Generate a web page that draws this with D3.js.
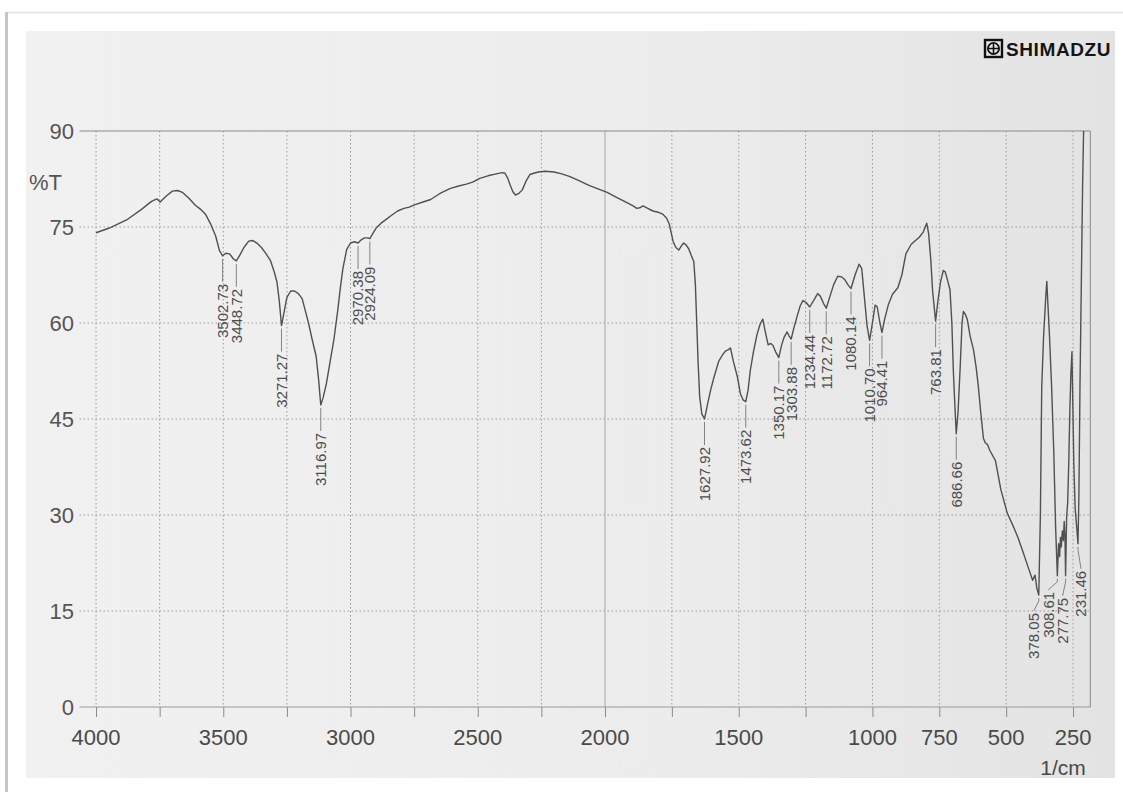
<!DOCTYPE html>
<html>
<head>
<meta charset="utf-8">
<script src="https://cdn.jsdelivr.net/npm/d3@7"></script>
<style>
  html, body { margin: 0; padding: 0; background: #ffffff; }
  svg { display: block; }
  text { font-family: "Liberation Sans", Arial, sans-serif; }
</style>
</head>
<body>
<svg id="chart" width="1123" height="792"></svg>
<script>
// IR spectrum: wavenumber (1/cm) and transmittance (%T)
const wavenumber = [
  4000, 3950, 3880, 3820, 3782, 3761, 3748, 3725, 3700, 3680, 3660, 3635, 3610, 3590, 3570, 3550, 3530, 3515,
  3502.73, 3490, 3475, 3460, 3448.72, 3435, 3419, 3400, 3385, 3365, 3350, 3335, 3315, 3300, 3289, 3280,
  3271.27, 3262, 3250, 3235, 3220, 3205, 3190, 3175, 3165, 3150, 3135, 3125, 3116.97, 3108, 3095, 3080,
  3065, 3050, 3040, 3030, 3015, 3000, 2985, 2970.38, 2958, 2945, 2935, 2924.09, 2912, 2900, 2880, 2860,
  2840, 2815, 2790, 2770, 2746, 2715, 2685, 2650, 2610, 2575, 2545, 2520, 2492, 2460, 2427, 2405, 2393,
  2382, 2372, 2362, 2352, 2340, 2325, 2310, 2295, 2280, 2262, 2235, 2200, 2170, 2140, 2100, 2063, 2030,
  1992, 1955, 1918, 1895, 1881, 1870, 1858, 1840, 1821, 1800, 1784, 1770, 1760, 1752, 1745, 1735, 1724,
  1715, 1706, 1697, 1687, 1677, 1668, 1662, 1657, 1652, 1646, 1638, 1627.92, 1617, 1605, 1594, 1575, 1561,
  1550, 1540, 1531, 1520, 1505, 1494, 1484, 1473.62, 1465, 1457, 1445, 1431, 1420, 1410, 1400, 1390, 1380,
  1372, 1362, 1350.17, 1340, 1330, 1319, 1312, 1303.88, 1292, 1282, 1270, 1260, 1248, 1234.44, 1220, 1205,
  1195, 1182, 1172.72, 1160, 1145, 1130, 1115, 1104, 1092, 1080.14, 1065, 1050, 1040, 1030, 1020, 1010.70,
  1000, 990, 982, 972, 964.41, 955, 941, 925, 905, 890, 875, 855, 825, 810, 797, 790, 782, 775, 763.81,
  755, 745, 735, 728, 718, 710, 703, 697, 690, 686.66, 680, 672, 665, 660, 652, 645, 635, 622, 612, 605,
  595, 585, 578, 570, 560, 540, 520, 496, 472, 456, 435, 415, 401, 392, 385, 378.05, 372, 367, 360, 352,
  348, 344, 338, 330, 322, 315, 308.61, 304, 300, 297, 294, 290, 286, 283, 280, 277.75, 274, 270, 266,
  262, 258, 254, 251, 247, 242, 237, 231.46, 228, 224, 219, 214, 210
];
const transmittance = [
  74.1, 74.8, 76.1, 77.8, 79.0, 79.4, 78.9, 79.8, 80.6, 80.7, 80.4, 79.5, 78.4, 77.8, 77.0, 75.5, 73.6, 71.3,
  70.5, 70.9, 70.8, 70.0, 69.7, 70.6, 71.8, 72.8, 72.9, 72.4, 71.8, 71.0, 69.8, 68.0, 66.4, 63.5,
  59.6, 61.5, 64.0, 65.0, 65.0, 64.6, 63.8, 61.5, 60.0, 57.3, 54.8, 51.0, 47.2, 48.3, 50.5, 54.0,
  57.5, 62.0, 65.5, 68.5, 71.5, 72.5, 72.7, 72.5, 73.0, 73.3, 73.3, 73.2, 74.0, 74.8, 75.6, 76.2,
  76.8, 77.5, 77.9, 78.1, 78.5, 78.9, 79.3, 80.2, 81.0, 81.4, 81.7, 82.0, 82.6, 83.0, 83.3, 83.5, 83.4,
  82.6, 81.5, 80.5, 80.0, 80.2, 80.8, 82.2, 83.2, 83.4, 83.6, 83.7, 83.6, 83.3, 82.9, 82.2, 81.5, 81.0,
  80.4, 79.6, 78.8, 78.3, 77.9, 78.0, 78.3, 77.9, 77.5, 77.3, 77.0, 76.4, 75.5, 74.0, 72.7, 71.8, 71.4,
  72.0, 72.5, 72.2, 71.6, 70.5, 69.6, 66.0, 60.0, 54.0, 48.5, 45.8, 45.0, 47.2, 49.5, 51.3, 54.0, 55.0,
  55.6, 55.8, 56.1, 54.0, 51.6, 49.0, 48.0, 47.7, 49.5, 52.5, 55.5, 58.3, 59.8, 60.6, 58.5, 56.6, 56.8,
  56.5, 55.5, 54.6, 56.5, 57.8, 58.6, 58.0, 57.5, 59.5, 61.0, 62.7, 63.5, 63.2, 62.5, 63.5, 64.6,
  64.2, 63.0, 62.3, 64.0, 66.0, 67.3, 67.2, 66.8, 66.0, 65.4, 67.5, 69.2, 68.5, 64.0, 59.5, 57.3,
  60.0, 62.8, 62.5, 60.0, 58.5, 60.5, 62.8, 64.5, 65.5, 67.5, 70.8, 72.3, 73.4, 74.2, 75.6, 74.0, 70.0, 65.0, 60.3,
  63.5, 66.5, 68.2, 68.0, 66.5, 65.2, 60.0, 52.0, 45.5, 42.7, 46.0, 53.0, 60.0, 61.8, 61.3, 60.5, 58.0, 55.8, 53.0, 50.5,
  46.0, 42.0, 41.3, 41.0, 40.0, 38.5, 34.0, 30.3, 28.1, 26.5, 24.0, 21.5, 19.8, 20.6, 18.5, 17.5, 30.0, 50.0, 58.0, 64.0,
  66.5, 63.0, 58.0, 50.0, 40.0, 28.0, 20.5, 25.5, 23.5, 26.5, 25.0, 27.5, 26.0, 29.0, 26.5, 20.5, 29.5, 32.0, 38.0,
  46.0, 52.0, 55.5, 48.0, 38.0, 31.0, 28.5, 25.5, 33.0, 50.0, 66.0, 82.0, 91.0
];

// Annotated band positions (1/cm)
const peakLabels = [
  3502.73, 3448.72, 3271.27, 3116.97, 2970.38, 2924.09, 1627.92, 1473.62, 1350.17, 1303.88,
  1234.44, 1172.72, 1080.14, 1010.70, 964.41, 763.81, 686.66, 378.05, 308.61, 277.75, 231.46
];

// Axis ticks
const xGridTicks = d3.range(4000, 249, -250);
const xTickLabels = [4000, 3500, 3000, 2500, 2000, 1500, 1000, 750, 500, 250];
const yTickLabels = [0, 15, 30, 45, 60, 75, 90];

const svg = d3.select("#chart");
const W = 1123, H = 792;

// page / paper
const paper = { x: 26, y: 31, w: 1089, h: 747 };
const defs = svg.append("defs");
const grad = defs.append("linearGradient").attr("id", "paperShade").attr("x1", "0").attr("x2", "1").attr("y1", "0").attr("y2", "0");
grad.append("stop").attr("offset", "0").attr("stop-color", "#f1f1f1");
grad.append("stop").attr("offset", "0.6").attr("stop-color", "#ececec");
grad.append("stop").attr("offset", "1").attr("stop-color", "#e3e3e3");
defs.append("clipPath").attr("id", "paperClip").append("rect")
  .attr("x", paper.x).attr("y", paper.y).attr("width", paper.w).attr("height", paper.h);

svg.append("rect").attr("width", W).attr("height", H).attr("fill", "#ffffff");
svg.append("line").attr("x1", 8).attr("x2", W).attr("y1", 12.5).attr("y2", 12.5)
  .attr("stroke", "#e2e2e2").attr("stroke-width", 1.5);
svg.append("rect").attr("x", 5).attr("y", 12).attr("width", 3).attr("height", H - 12).attr("fill", "#c6c6c6");
svg.append("rect").attr("x", paper.x).attr("y", paper.y).attr("width", paper.w).attr("height", paper.h)
  .attr("fill", "url(#paperShade)");

const page = svg.append("g").attr("clip-path", "url(#paperClip)");

// scales
const x = d3.scaleLinear().domain([4065, 2000, 185]).range([79.5, 605, 1090.4]);
const y = d3.scaleLinear().domain([0, 90]).range([707, 131]);
const xL = x(4065), xR = x(185), yT = y(90), yB = y(0);

defs.append("clipPath").attr("id", "plotClip").append("rect")
  .attr("x", xL).attr("y", yT).attr("width", xR - xL).attr("height", yB - yT);

// grid
const grid = page.append("g");
grid.selectAll("line.h").data([15, 30, 45, 60, 75]).join("line")
  .attr("x1", xL).attr("x2", xR).attr("y1", d => y(d)).attr("y2", d => y(d))
  .attr("stroke", "#9a9a9a").attr("stroke-width", 1).attr("stroke-dasharray", "1.5,2.5");
grid.selectAll("line.v").data(xGridTicks).join("line")
  .attr("x1", d => x(d)).attr("x2", d => x(d)).attr("y1", yT).attr("y2", yB)
  .attr("stroke", d => d === 2000 ? "#a8a8a8" : "#9a9a9a").attr("stroke-width", 1)
  .attr("stroke-dasharray", d => d === 2000 ? null : "1.5,2.5");

// frame
grid.append("line").attr("x1", xL).attr("x2", xR).attr("y1", yT).attr("y2", yT).attr("stroke", "#8a8a8a").attr("stroke-width", 1.2);
grid.append("line").attr("x1", xL).attr("x2", xR).attr("y1", yB).attr("y2", yB).attr("stroke", "#9a9a9a").attr("stroke-width", 1.2);
grid.append("line").attr("x1", xR).attr("x2", xR).attr("y1", yT).attr("y2", yB).attr("stroke", "#9a9a9a").attr("stroke-width", 1.2);

// bottom axis
const xAxis = d3.axisBottom(x).tickValues(xGridTicks).tickSize(10).tickFormat("");
const xAxisG = page.append("g").attr("transform", `translate(0,${yB})`).call(xAxis);
xAxisG.select(".domain").remove();
xAxisG.selectAll(".tick line").attr("stroke", "#8a8a8a");
page.append("g").selectAll("text").data(xTickLabels).join("text")
  .attr("x", d => x(d)).attr("y", 745).attr("text-anchor", "middle")
  .attr("font-size", 22).attr("fill", "#4a4a4a").text(d => d);
page.append("text").attr("x", x(250) - 10).attr("y", 775).attr("text-anchor", "middle")
  .attr("font-size", 21).attr("fill", "#4a4a4a").text("1/cm");

// left axis labels
const yAxis = d3.axisLeft(y).tickValues(yTickLabels).tickSize(0).tickPadding(0);
const yAxisG = page.append("g").attr("transform", `translate(74,0)`).call(yAxis);
yAxisG.select(".domain").remove();
yAxisG.selectAll(".tick text").attr("font-size", 22).attr("fill", "#555555")
  .attr("font-family", "\"Liberation Sans\", Arial, sans-serif");
page.append("text").attr("x", 62).attr("y", y(82) + 8).attr("text-anchor", "end")
  .attr("font-size", 22).attr("fill", "#555555").text("%T");

// spectrum trace
const pts = wavenumber.map((w, i) => [w, transmittance[i]]);
const line = d3.line().x(d => x(d[0])).y(d => y(d[1]));
page.append("g").attr("clip-path", "url(#plotClip)").append("path")
  .datum(pts).attr("d", line).attr("fill", "none")
  .attr("stroke", "#505050").attr("stroke-width", 1.4).attr("stroke-linejoin", "round");

// band annotations: leader + vertical value label
const crowded = { 378.05: { dx: -5, gap: 18 }, 308.61: { dx: -9, gap: 16 }, 277.75: { dx: -3, gap: 22 }, 231.46: { dx: 3, gap: 27 } };
const ann = page.append("g");
peakLabels.forEach(p => {
  const t = transmittance[wavenumber.indexOf(p)];
  const px = x(p), py = y(t);
  const adj = crowded[p] || { dx: 0, gap: 28 };
  const tx = px + adj.dx, ty = py + adj.gap;
  const path = adj.dx === 0
    ? `M${px},${py + 3}L${px},${ty - 2}`
    : `M${px},${py + 3}L${px},${py + 6}L${tx},${ty - 2}`;
  ann.append("path").attr("d", path).attr("fill", "none").attr("stroke", "#777").attr("stroke-width", 0.9);
  ann.append("text")
    .attr("transform", `translate(${tx},${ty}) rotate(-90)`)
    .attr("text-anchor", "end").attr("dy", "0.36em")
    .attr("font-size", 15).attr("fill", "#4d4d4d")
    .text(p.toFixed(2));
});

// maker mark
const logo = page.append("g").attr("transform", "translate(984,39)");
logo.append("rect").attr("x", 1).attr("y", 1).attr("width", 17).attr("height", 17)
  .attr("fill", "none").attr("stroke", "#111").attr("stroke-width", 2.4);
logo.append("circle").attr("cx", 9.5).attr("cy", 9.5).attr("r", 5.6)
  .attr("fill", "none").attr("stroke", "#111").attr("stroke-width", 1.8);
logo.append("path").attr("d", "M9.5,3.9V15.1M3.9,9.5H15.1").attr("stroke", "#111").attr("stroke-width", 1.6);
page.append("text").attr("x", 1006).attr("y", 56).attr("font-size", 19).attr("font-weight", "bold")
  .attr("letter-spacing", "0.6").attr("fill", "#151515").text("SHIMADZU");
</script>
</body>
</html>
